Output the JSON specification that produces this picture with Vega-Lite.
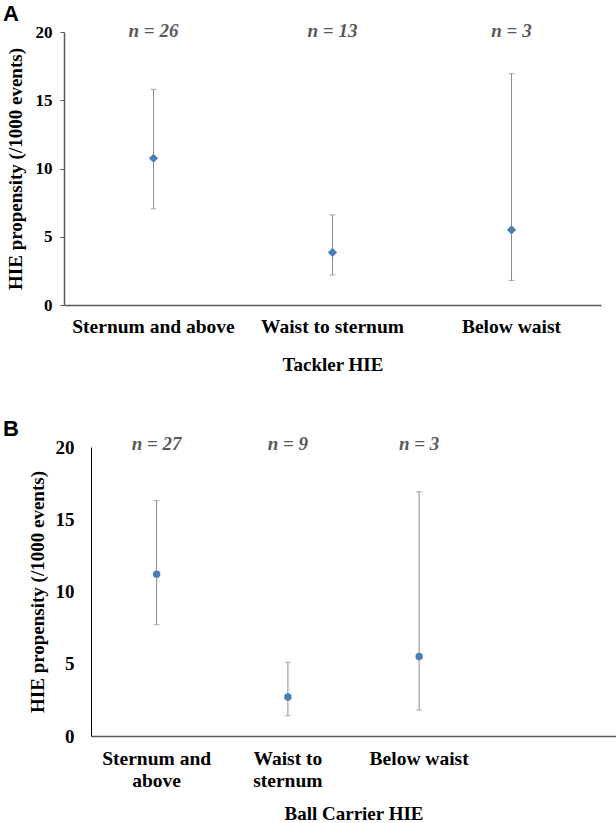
{
  "$schema": "https://vega.github.io/schema/vega-lite/v6.json",
  "padding": {"left": 3, "top": 3, "right": 0, "bottom": 0},
  "background": "white",
  "columns": 1,
  "spacing": 43,
  "config": {
    "view": {"stroke": null},
    "font": "Liberation Serif",
    "axis": {"grid": false, "labelFont": "Liberation Serif", "labelFontWeight": "bold", "labelColor": "black", "titleFont": "Liberation Serif", "titleFontWeight": "bold", "titleColor": "black", "titleFontSize": 19, "labelLimit": 0},
    "title": {"font": "Liberation Sans", "fontSize": 22, "fontWeight": "bold", "color": "black", "anchor": "start", "frame": "group"}
  },
  "concat": [
    {
      "width": 537,
      "height": 273,
      "title": {"text": "A", "dx": -61, "offset": -4.3},
      "data": {"values": [
        {"position": "Sternum and above", "rate": 10.75, "lower": 7.05, "upper": 15.8, "label": "n = 26"},
        {"position": "Waist to sternum", "rate": 3.85, "lower": 2.2, "upper": 6.6, "label": "n = 13"},
        {"position": "Below waist", "rate": 5.5, "lower": 1.8, "upper": 16.95, "label": "n = 3"}
      ]},
      "encoding": {
        "x": {"field": "position", "type": "nominal", "sort": null,
          "scale": {"domain": ["Sternum and above", "Waist to sternum", "Below waist"], "paddingInner": 0, "paddingOuter": 0},
          "axis": {"title": "Tackler HIE", "labelAngle": 0, "labelFontSize": 19.5, "labelPadding": 12, "ticks": false, "domainColor": "#595959", "domainWidth": 1.5, "titlePadding": 20}}
      },
      "layer": [
        {"mark": {"type": "rule", "color": "#8c8c8c", "strokeWidth": 1},
         "encoding": {
           "y": {"field": "lower", "type": "quantitative", "title": "HIE propensity (/1000 events)", "scale": {"domain": [0, 20]},
             "axis": {"values": [0, 5, 10, 15, 20], "labelFontSize": 17, "labelPadding": 8, "ticks": true, "tickSize": 4, "tickColor": "#595959", "domainColor": "#595959", "domainWidth": 1.5, "titlePadding": 10}},
           "y2": {"field": "upper"}}},
        {"mark": {"type": "tick", "color": "#8c8c8c", "size": 6, "thickness": 1},
         "encoding": {"y": {"field": "lower", "type": "quantitative", "title": "HIE propensity (/1000 events)"}}},
        {"mark": {"type": "tick", "color": "#8c8c8c", "size": 6, "thickness": 1},
         "encoding": {"y": {"field": "upper", "type": "quantitative", "title": "HIE propensity (/1000 events)"}}},
        {"mark": {"type": "point", "shape": "diamond", "filled": true, "color": "#4A7EBB", "opacity": 1, "size": 85},
         "encoding": {"y": {"field": "rate", "type": "quantitative", "title": "HIE propensity (/1000 events)"}}},
        {"mark": {"type": "text", "font": "Liberation Serif", "fontStyle": "italic", "fontWeight": "bold", "fontSize": 19, "color": "#595959", "baseline": "middle", "dy": -1},
         "encoding": {"y": {"datum": 20, "type": "quantitative"}, "text": {"field": "label"}}}
      ]
    },
    {
      "width": 552,
      "height": 289,
      "title": {"text": "B", "dx": -61, "offset": -6},
      "data": {"values": [
        {"position": "Sternum and above", "rate": 11.2, "lower": 7.7, "upper": 16.3, "label": "n = 27"},
        {"position": "Waist to sternum", "rate": 2.7, "lower": 1.4, "upper": 5.1, "label": "n = 9"},
        {"position": "Below waist", "rate": 5.5, "lower": 1.8, "upper": 16.9, "label": "n = 3"}
      ]},
      "encoding": {
        "x": {"field": "position", "type": "nominal", "sort": null,
          "scale": {"domain": ["Sternum and above", "Waist to sternum", "Below waist"], "range": [27, 552], "paddingInner": 0, "paddingOuter": 0.5, "align": 0},
          "axis": {"title": "Ball Carrier HIE", "labelAngle": 0, "labelFontSize": 19.5, "labelPadding": 13, "labelLineHeight": 22, "ticks": false, "domainColor": "#595959", "domainWidth": 1.5, "titlePadding": 15,
            "labelExpr": "datum.value == 'Sternum and above' ? ['Sternum and', 'above'] : datum.value == 'Waist to sternum' ? ['Waist to', 'sternum'] : datum.value"}}
      },
      "layer": [
        {"mark": {"type": "rule", "color": "#8c8c8c", "strokeWidth": 1},
         "encoding": {
           "y": {"field": "lower", "type": "quantitative", "title": "HIE propensity (/1000 events)", "scale": {"domain": [0, 20]},
             "axis": {"values": [0, 5, 10, 15, 20], "offset": -27, "labelFontSize": 19, "labelPadding": 17, "ticks": false, "tickSize": 0, "domainColor": "black", "domainWidth": 1, "titlePadding": 8}},
           "y2": {"field": "upper"}}},
        {"mark": {"type": "tick", "color": "#8c8c8c", "size": 6, "thickness": 1},
         "encoding": {"y": {"field": "lower", "type": "quantitative", "title": "HIE propensity (/1000 events)"}}},
        {"mark": {"type": "tick", "color": "#8c8c8c", "size": 6, "thickness": 1},
         "encoding": {"y": {"field": "upper", "type": "quantitative", "title": "HIE propensity (/1000 events)"}}},
        {"mark": {"type": "point", "shape": "circle", "filled": true, "color": "#4A7EBB", "opacity": 1, "size": 55},
         "encoding": {"y": {"field": "rate", "type": "quantitative", "title": "HIE propensity (/1000 events)"}}},
        {"mark": {"type": "text", "font": "Liberation Serif", "fontStyle": "italic", "fontWeight": "bold", "fontSize": 19, "color": "#595959", "baseline": "middle", "dy": -3},
         "encoding": {"y": {"datum": 20, "type": "quantitative"}, "text": {"field": "label"}}}
      ]
    }
  ]
}
